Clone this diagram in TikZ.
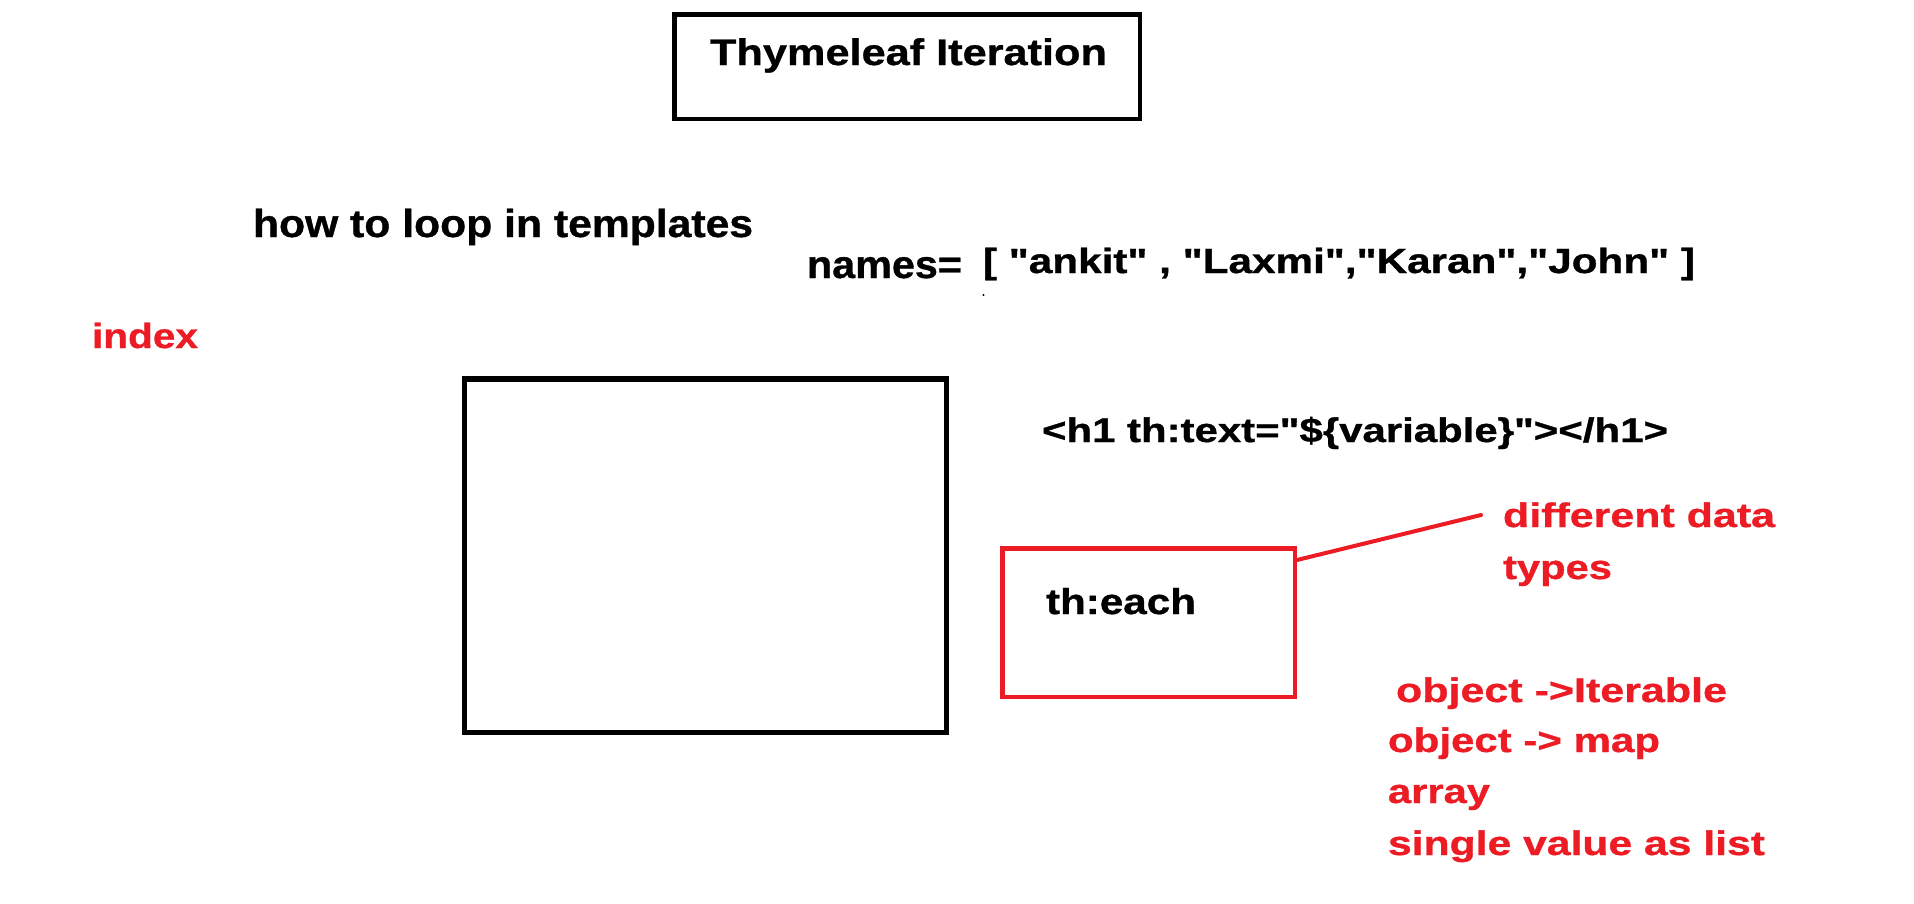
\documentclass[tikz,border=0pt]{standalone}
\usepackage{fontspec}
\setmainfont{Liberation Sans}[Ligatures=TeXOff,BoldFeatures={FakeBold=0.8}]
\usepackage{graphicx}
\definecolor{pred}{RGB}{237,28,36}
\newcommand\fitw[2]{\resizebox{#1}{\height}{#2}}
\newcommand\fs[1]{\fontsize{#1}{#1}\selectfont\bfseries}
\begin{document}
\begin{tikzpicture}[x=1pt,y=-1pt,
  txt/.style={anchor=base west,inner sep=0pt,outer sep=0pt},
  boxk/.style={draw=black,inner sep=0pt,line width=#1},
  boxr/.style={draw=pred,inner sep=0pt,line width=4.5pt},
  rtxt/.style={txt,text=pred}]
\useasboundingbox[fill=white] (0,0) rectangle (1914,903);
% boxes
\node[boxk=4.5pt,minimum width=465.5pt,minimum height=104.5pt] (titlebox) at (907,66.5) {};
\node[boxk=5.5pt,minimum width=482pt,minimum height=353.5pt] (bigbox) at (705.5,555.5) {};
\node[boxr,minimum width=292.5pt,minimum height=148.5pt] (eachbox) at (1148.5,622.5) {};
% texts
\node[txt] (title) at (710,65) {\fitw{397pt}{\fs{37}Thymeleaf Iteration}};
\node[txt] (howto) at (253,237) {\fitw{500pt}{\fs{39}how to loop in templates}};
\node[txt] (names) at (807,278) {\fitw{155pt}{\fs{39}names=}};
\node[txt] (list) at (983,273) {\fitw{712pt}{\fs{35}[ "ankit" , "Laxmi","Karan","John" ]}};
\fill (983.5,295) circle (1.2pt);
\node[rtxt] (index) at (92,348) {\fitw{106pt}{\fs{35}index}};
\node[txt] (h1) at (1042,442) {\fitw{626pt}{\fs{34}<h1 th:text="\$\{variable\}"></h1>}};
\node[txt] (each) at (1046,614) {\fitw{150pt}{\fs{36}th:each}};
\node[rtxt] (diff) at (1503,527) {\fitw{272pt}{\fs{34}different data}};
\node[rtxt] (types) at (1503,579) {\fitw{109pt}{\fs{34}types}};
\node[rtxt] (iter) at (1396,702) {\fitw{331pt}{\fs{34}object ->Iterable}};
\node[rtxt] (map) at (1388,752) {\fitw{272pt}{\fs{34}object -> map}};
\node[rtxt] (arr) at (1388,803) {\fitw{102pt}{\fs{34}array}};
\node[rtxt] (single) at (1388,855) {\fitw{377pt}{\fs{34}single value as list}};
% connector
\coordinate (dtend) at (1481,515);
\draw[pred,line width=4pt,line cap=round] ([yshift=-14pt]eachbox.north east) -- (dtend);
\end{tikzpicture}
\end{document}
